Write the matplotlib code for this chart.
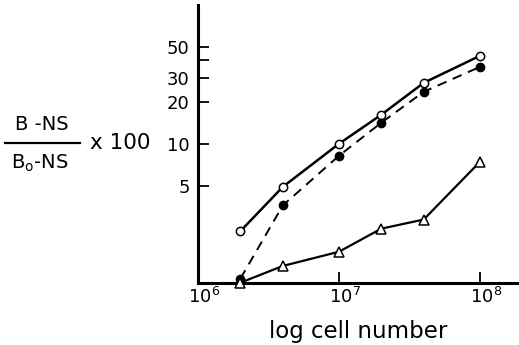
import matplotlib
matplotlib.use("Agg")
import matplotlib.pyplot as plt
import matplotlib.transforms as mtransforms

# cell numbers and the three series
cells = [2e6, 4e6, 1e7, 2e7, 4e7, 1e8]
open_circles = [2.35, 4.9, 10.0, 16.2, 27.5, 43.0]
filled_circles = [1.07, 3.6, 8.2, 14.2, 23.7, 35.8]
triangles = [1.0, 1.32, 1.67, 2.45, 2.85, 7.4]

y_ticks = [5, 10, 20, 30, 40, 50]
y_tick_labels = ["5", "10", "20", "30", "", "50"]
x_ticks = [1e6, 1e7, 1e8]
x_tick_labels = [r"$\mathregular{10^6}$", r"$\mathregular{10^7}$", r"$\mathregular{10^8}$"]

W, H = 519, 345
fig = plt.figure(figsize=(W / 100, H / 100), dpi=100)
ax = fig.add_axes([198 / W, 1 - 283 / H, 1 - 198 / W, (283 - 5) / H])

ax.plot(cells, open_circles, "-", color="black", lw=1.8, marker="o", ms=6,
        mfc="white", mec="black", mew=1.1, clip_on=False, zorder=3)
ax.plot(cells, filled_circles, "--", color="black", lw=1.4, dashes=(5, 3.5),
        marker="o", ms=6, mfc="black", mec="black", clip_on=False, zorder=3)
ax.plot(cells, triangles, "-", color="black", lw=1.6, marker="^", ms=7,
        mfc="white", mec="black", mew=1.1, clip_on=False, zorder=3)

ax.set_xscale("log")
ax.set_yscale("log")
ax.set_xlim(1e6, 10 ** (8 + 39 / 140))
ax.set_ylim(0.995, 100)

ax.spines["top"].set_visible(False)
ax.spines["right"].set_visible(False)
ax.spines["left"].set_linewidth(2.2)
ax.spines["bottom"].set_linewidth(2.2)

ax.minorticks_off()
ax.set_yticks(y_ticks)
ax.set_yticklabels(y_tick_labels)
ax.set_xticks(x_ticks)
ax.set_xticklabels(x_tick_labels)
ax.tick_params(axis="both", direction="in", length=8, width=1.3, labelsize=13)
ax.tick_params(axis="y", pad=6)
ax.tick_params(axis="x", pad=3)

shift = mtransforms.ScaledTranslation(6 / 100, 0, fig.dpi_scale_trans)
for lab in ax.get_xticklabels():
    lab.set_transform(lab.get_transform() + shift)

ax.set_xlabel("log cell number", fontsize=16.5, labelpad=9)

# y label drawn as a fraction
fig.text(42 / W, 1 - 124 / H, "B -NS", fontsize=14, ha="center", va="center")
fig.add_artist(plt.Line2D([5 / W, 80 / W], [1 - 143 / H, 1 - 143 / H],
                          color="black", lw=1.6, transform=fig.transFigure))
fig.text(40 / W, 1 - 163 / H, r"B$_\mathregular{o}$-NS", fontsize=14,
         ha="center", va="center")
fig.text(120 / W, 1 - 143 / H, "x 100", fontsize=15.5, ha="center", va="center")

fig.savefig("out.png", dpi=100)
